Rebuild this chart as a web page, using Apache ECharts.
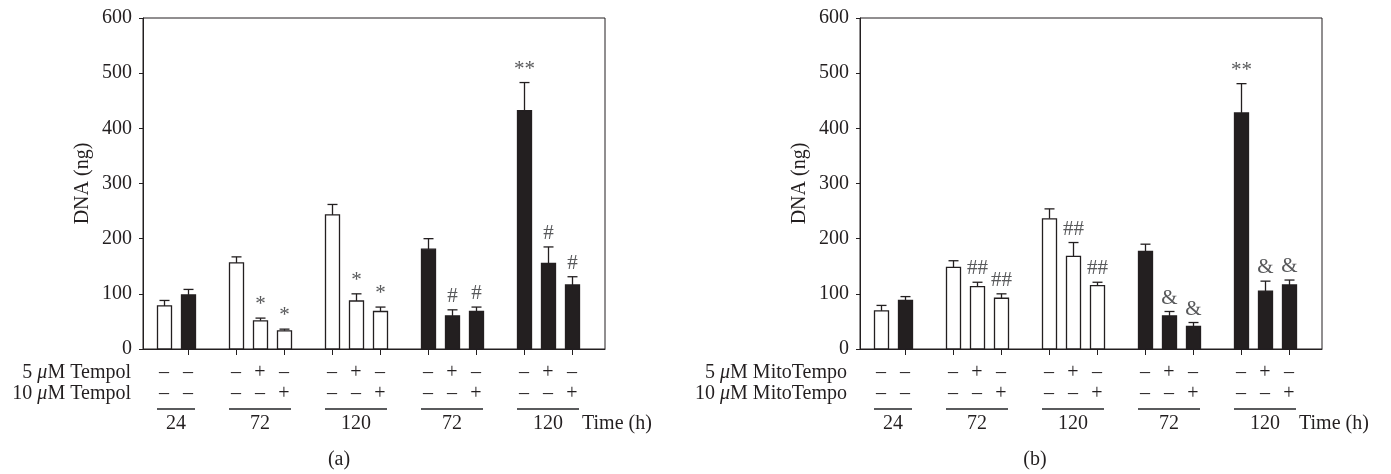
<!DOCTYPE html>
<html>
<head>
<meta charset="utf-8">
<script src="https://cdn.jsdelivr.net/npm/echarts@6/dist/echarts.min.js"></script>
<style>html,body{margin:0;padding:0;background:#fff}#c{width:1391px;height:474px}</style>
</head>
<body>
<div id="c"></div>
<script>
// ---- data ----
const groupOf   = [0,0,1,1,1,2,2,2,3,3,3,4,4,4];
const isDark    = [false,true,false,false,false,false,false,false,true,true,true,true,true,true];
const row5      = ['–','–','–','+','–','–','+','–','–','+','–','–','+','–'];
const row10     = ['–','–','–','–','+','–','–','+','–','–','+','–','–','+'];
const groupLabels = ['24','72','120','72','120'];
const yTicks    = [0,100,200,300,400,500,600];

const dnaA = [78, 98, 156, 51, 33, 243, 87, 68, 181, 60, 68, 432, 155, 116];
const errA = [10, 10, 11, 5, 3, 19, 13, 8, 19, 11, 8, 51, 30, 15];
const sigA = ['', '', '', '*', '*', '', '*', '*', '', '#', '#', '**', '#', '#'];

const dnaB = [69, 88, 148, 113, 92, 236, 168, 115, 177, 60, 41, 428, 105, 116];
const errB = [10, 7, 12, 8, 8, 18, 25, 6, 13, 8, 7, 53, 18, 9];
const sigB = ['', '', '', '##', '##', '', '##', '##', '', '&', '&', '**', '&', '&'];

const rowLabelsA = [['5 ', '\u03bc', 'M Tempol'], ['10 ', '\u03bc', 'M Tempol']];
const rowLabelsB = [['5 ', '\u03bc', 'M MitoTempo'], ['10 ', '\u03bc', 'M MitoTempo']];

// ---- layout helpers ----
const FONT_FAMILY = "'Liberation Serif', 'Times New Roman', serif";
const FS = 20;
const FONT = FS + 'px ' + FONT_FAMILY;
const SIG_FONT = '21px ' + FONT_FAMILY;
const INK = '#231f20';
const slot = groupOf.map((g, i) => i + g);
const groupRanges = groupLabels.map((l, g) => {
  const idx = groupOf.map((v, i) => v === g ? i : -1).filter(v => v >= 0);
  return [slot[idx[0]], slot[idx[idx.length - 1]], g];
});
const tickSlots = slot.filter((s, i) => s % 2 === 1);

const chart = echarts.init(document.getElementById('c'), null, {renderer: 'canvas'});

const grids = [
  {left: 143, top: 18, width: 462, height: 331},
  {left: 860, top: 18, width: 462, height: 331}
];

function txt(text, x, y, align, vAlign, color, font) {
  return {type: 'text', x: x, y: y, style: {text: text, font: font || FONT, fill: color || INK,
    align: align, verticalAlign: vAlign, textAlign: align, textVerticalAlign: vAlign}};
}

function barSeries(p, dna, err, sig) {
  return {
    type: 'custom', xAxisIndex: p, yAxisIndex: p, clip: false,
    data: dna.map((v, i) => [slot[i], v, err[i], i]),
    renderItem: function (params, api) {
      const x = api.value(0), v = api.value(1), e = api.value(2), i = api.value(3);
      const p0 = api.coord([x, 0]), p1 = api.coord([x, v]), p2 = api.coord([x, v + e]);
      const hw = 7, cw = 5;
      const cx = Math.round(p0[0]) + 0.5;
      const children = [
        {type: 'line', shape: {x1: cx, y1: p1[1], x2: cx, y2: p2[1]}, style: {stroke: INK, lineWidth: 1.3}},
        {type: 'line', shape: {x1: cx - cw, y1: p2[1], x2: cx + cw, y2: p2[1]}, style: {stroke: INK, lineWidth: 1.3}},
        {type: 'rect', shape: {x: cx - hw, y: p1[1], width: 2 * hw, height: p0[1] - p1[1]},
          style: {fill: isDark[i] ? INK : '#fff', stroke: INK, lineWidth: 1.3}}
      ];
      if (sig[i]) children.push(txt(sig[i], cx, p2[1] - 3, 'center', 'bottom', '#58595b', SIG_FONT));
      return {type: 'group', children: children};
    },
    z: 3
  };
}

function tableSeries(p) {
  return {
    type: 'custom', xAxisIndex: p, yAxisIndex: p, clip: false, silent: true,
    data: slot.map((s, i) => [s, 0, i]),
    renderItem: function (params, api) {
      const i = api.value(2);
      const p0 = api.coord([api.value(0), 0]);
      return {type: 'group', children: [
        txt(row5[i], p0[0], p0[1] + 24, 'center', 'middle'),
        txt(row10[i], p0[0], p0[1] + 45, 'center', 'middle')
      ]};
    }
  };
}

function groupSeries(p) {
  return {
    type: 'custom', xAxisIndex: p, yAxisIndex: p, clip: false, silent: true,
    data: groupRanges.map(r => [r[0], 0, r[1], r[2]]),
    renderItem: function (params, api) {
      const a = api.coord([api.value(0), 0]), b = api.coord([api.value(2), 0]);
      const g = api.value(3);
      return {type: 'group', children: [
        {type: 'line', shape: {x1: a[0] - 7, y1: a[1] + 60, x2: b[0] + 7, y2: a[1] + 60},
          style: {stroke: '#5a5b5d', lineWidth: 2}},
        txt(groupLabels[g], (a[0] + b[0]) / 2, a[1] + 75, 'center', 'middle')
      ]};
    }
  };
}

const xAxes = [0, 1].map(p => ({
  type: 'value', gridIndex: p, min: -0.875, max: 18.375,
  axisLine: {show: true, onZero: false, lineStyle: {color: INK, width: 1}},
  axisTick: {show: true, customValues: tickSlots, length: 6, inside: false, lineStyle: {color: INK, width: 1}},
  axisLabel: {show: false}, splitLine: {show: false}
}));

const yAxes = [0, 1].map(p => ({
  type: 'value', gridIndex: p, min: yTicks[0], max: yTicks[yTicks.length - 1], interval: 100,
  name: 'DNA (ng)', nameLocation: 'middle', nameGap: 50,
  nameTextStyle: {fontFamily: FONT_FAMILY, fontSize: FS, color: INK},
  axisLine: {show: true, onZero: false, lineStyle: {color: INK, width: 1}},
  axisTick: {show: true, length: 4, inside: false, lineStyle: {color: INK, width: 1}},
  axisLabel: {fontFamily: FONT_FAMILY, fontSize: FS, color: INK, margin: 11},
  splitLine: {show: false}
}));

const richStyle = {i: {fontFamily: FONT_FAMILY, fontSize: FS, fontStyle: 'italic', fill: INK}};
function richLabel(parts, x, y) {
  return {type: 'text', x: x, y: y, style: {
    text: parts[0] + '{i|' + parts[1] + '}' + parts[2],
    font: FONT, fill: INK, rich: richStyle,
    align: 'right', verticalAlign: 'middle', textAlign: 'right', textVerticalAlign: 'middle'}};
}

const graphicEls = [];
[[rowLabelsA, 131], [rowLabelsB, 847]].forEach(([labels, rx]) => {
  graphicEls.push(richLabel(labels[0], rx, 373));
  graphicEls.push(richLabel(labels[1], rx, 394));
});
[[582, 'Time (h)'], [1299, 'Time (h)']].forEach(([x, t]) => {
  graphicEls.push({type: 'text', x: x, y: 424, style: {text: t, font: FONT, fill: INK, align: 'left', verticalAlign: 'middle', textAlign: 'left', textVerticalAlign: 'middle'}});
});
[[339, '(a)'], [1035, '(b)']].forEach(([x, t]) => {
  graphicEls.push({type: 'text', x: x, y: 460, style: {text: t, font: FONT, fill: INK, align: 'center', verticalAlign: 'middle', textAlign: 'center', textVerticalAlign: 'middle'}});
});

chart.setOption({
  animation: false,
  backgroundColor: '#fff',
  grid: grids.map(g => Object.assign({show: true, borderColor: INK, borderWidth: 1, backgroundColor: 'transparent', containLabel: false}, g)),
  xAxis: xAxes,
  yAxis: yAxes,
  graphic: graphicEls,
  series: [
    barSeries(0, dnaA, errA, sigA), tableSeries(0), groupSeries(0),
    barSeries(1, dnaB, errB, sigB), tableSeries(1), groupSeries(1)
  ]
});
</script>
</body>
</html>
